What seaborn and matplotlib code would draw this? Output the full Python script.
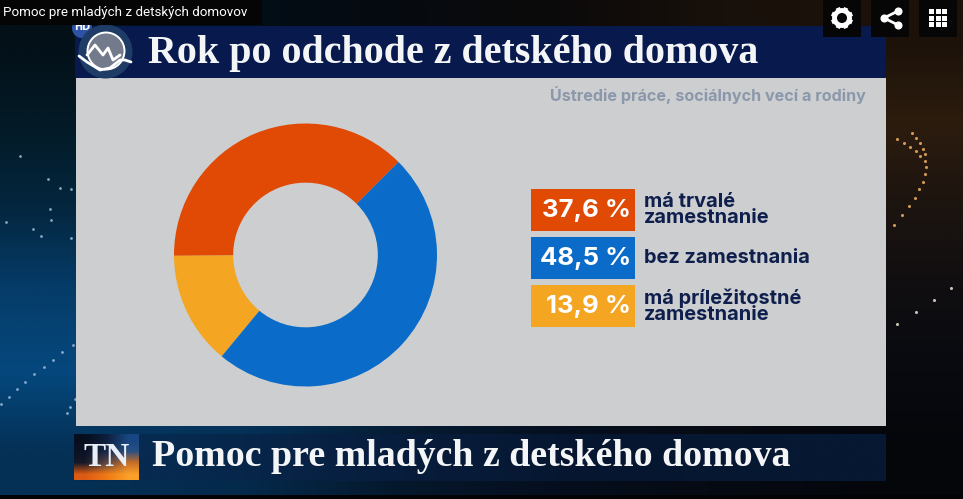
#!/usr/bin/env python
import numpy as np
import seaborn as sns
import matplotlib
matplotlib.use('agg')
import matplotlib.pyplot as plt
from matplotlib.patches import Rectangle, Circle

# values
labels = ["má trvalé\nzamestnanie", "bez zamestnania", "má príležitostné\nzamestnanie"]
shares = [37.6, 48.5, 13.9]
share_texts = ["37,6 %", "48,5 %", "13,9 %"]
colors = ["#e04a05", "#0a6bc9", "#f4a522"]
slice_order = [0, 2, 1]

video_title = "Pomoc pre mladých z detských domovov"
headline = "Rok po odchode z detského domova"
source = "Ústredie práce, sociálnych vecí a rodiny"
ticker = "Pomoc pre mladých z detského domova"

sns.set_theme(style="white")
W, H = 963, 499
fig = plt.figure(figsize=(W / 100, H / 100), dpi=100)
bg = fig.add_axes([0, 0, 1, 1])
bg.axis("off")


def box(x, y, w, h, col, z):
    bg.add_patch(Rectangle((x, y), w, h, facecolor=col, linewidth=0, zorder=z))


# backdrop, coarse colour grid smoothed by imshow
grid = np.array([
    [[3, 16, 24], [3, 14, 22], [6, 10, 16], [12, 10, 10], [24, 16, 10], [28, 18, 10]],
    [[3, 26, 38], [4, 26, 42], [6, 20, 40], [10, 14, 30], [40, 26, 14], [44, 28, 14]],
    [[4, 38, 62], [5, 42, 70], [6, 30, 56], [8, 16, 32], [20, 16, 20], [28, 20, 16]],
    [[5, 60, 105], [6, 60, 106], [6, 40, 70], [6, 16, 34], [14, 14, 20], [16, 14, 16]],
    [[5, 72, 125], [6, 70, 122], [6, 40, 72], [6, 18, 36], [10, 12, 20], [8, 10, 16]],
    [[4, 48, 85], [4, 42, 76], [5, 24, 44], [5, 14, 30], [6, 10, 18], [4, 6, 10]],
]) / 255
bg.imshow(grid, extent=(0, W, 495, 0), aspect="auto", interpolation="bilinear", zorder=0)
box(0, 495, W, 4, "#020304", 1)

# background specks
left_x = [20, 48, 60, 71, 50, 51, 33, 41, 6, 71, 1, 9, 17, 25, 34, 44, 53, 62, 73, 67, 70, 75]
left_y = [156, 179, 188, 189, 209, 220, 229, 236, 222, 238, 404, 397, 389, 382, 374, 367, 360, 352, 345, 413, 407, 399]
bg.scatter(left_x, left_y, s=4, color="#a9c6e4", alpha=0.8, linewidths=0, zorder=1)
arc_x = [897, 904, 912, 916, 920, 923, 925, 925, 926, 925, 923, 919, 915, 909, 902, 894, 910, 916, 920]
arc_y = [139, 143, 133, 138, 143, 149, 154, 161, 167, 174, 182, 189, 198, 206, 215, 225, 147, 151, 156]
bg.scatter(arc_x, arc_y, s=5, color="#f0b060", alpha=0.85, linewidths=0, zorder=1)
far_x = [951, 934, 916, 897]
far_y = [288, 300, 312, 324]
bg.scatter(far_x, far_y, s=5, color="#e8e0d0", alpha=0.85, linewidths=0, zorder=1)

# bands and panel
box(75, 26, 811, 52, "#07194d", 2)
box(76, 78, 810, 348, "#cdcecf", 2)
band = np.array([[[6, 42, 80], [8, 30, 62], [6, 22, 48], [6, 24, 50]]]) / 255
bg.imshow(band, extent=(75, 886, 481, 434), aspect="auto", interpolation="bilinear", zorder=2)

# header texts
bg.text(148, 53, headline, color="#f4f5f6", fontsize=28.8, family="Liberation Serif", weight="bold",
        va="center", zorder=4)
bg.text(866, 95, source, color="#8b98ab", fontsize=11.6, family="Inter", weight="bold",
        va="center", ha="right", zorder=4)

# logo
bg.add_patch(Circle((82, 28), 10, color="#2c53a5", lw=0, zorder=3))
bg.text(82, 27, "HD", color="white", fontsize=7, weight="bold", ha="center", va="center", zorder=4)
box(0, 0, 262, 25, "#050505", 4.5)
bg.text(3, 12.5, video_title, color="white", fontsize=9.6, family="Roboto", va="center", zorder=4.6)
bg.add_patch(Circle((105.5, 51.5), 27, color="#1f3c66", lw=0, zorder=3))
bg.add_patch(Circle((106, 51), 18.5, facecolor="#737a8c", edgecolor="white", lw=1.4, zorder=4))
logo_x = [87, 95, 103, 108, 113, 120]
logo_y = [55, 45, 55, 48, 60, 55]
bg.plot(logo_x, logo_y, color="white", lw=2, zorder=5)
wave_x = [79, 87, 100, 110, 120, 125, 131]
wave_y = [56, 62, 70, 68, 60, 60, 62]
bg.plot(wave_x, wave_y, color="white", lw=2, zorder=5)

# top right buttons
for x0 in [823, 871, 919]:
    box(x0, 0, 38, 37, "#060606", 3)
bg.add_patch(Circle((842, 18), 7.5, facecolor="#060606", edgecolor="white", lw=3.5, zorder=5))
for a in np.arange(8) * np.pi / 4 + np.pi / 8:
    bg.plot([842 + 8 * np.cos(a), 842 + 11 * np.cos(a)],
            [18 + 8 * np.sin(a), 18 + 11 * np.sin(a)], color="white", lw=3.2,
            solid_capstyle="butt", zorder=4)
share_x = [898, 884, 898]
share_y = [11, 18, 25]
bg.plot(share_x, share_y, color="white", lw=2, zorder=4)
bg.scatter(share_x, share_y, s=34, color="white", linewidths=0, zorder=4)
for i in range(3):
    for j in range(3):
        box(929 + 6.6 * i, 9 + 6.6 * j, 5, 5, "white", 4)

# legend blocks
for text, label, col, y0 in zip(share_texts, labels, colors, [189, 237, 285]):
    box(531, y0, 104, 42, col, 3)
    bg.text(631, y0 + 21, text, color="white", fontsize=18.5, family="Inter", weight="bold",
            ha="right", va="center", zorder=4)
    bg.text(644, y0 + 21, label, color="#0f1f4d", fontsize=14.4, family="Inter", weight="bold",
            ha="left", va="center", linespacing=0.86, zorder=4)

# TN logo and ticker
tn = np.array([[[6, 14, 30], [14, 30, 60], [24, 70, 130]],
               [[10, 18, 36], [24, 40, 70], [40, 80, 130]],
               [[20, 24, 40], [90, 70, 70], [200, 110, 40]],
               [[220, 90, 20], [240, 120, 20], [250, 160, 40]]]) / 255
bg.imshow(tn, extent=(74, 139, 480, 434), aspect="auto", interpolation="bilinear", zorder=3)
bg.text(106.5, 457, "TN", color="#e8eef6", fontsize=24, family="Liberation Serif", weight="bold",
        ha="center", va="center", zorder=4)
bg.text(152, 456, ticker, color="#f4f5f6", fontsize=27.3, family="Liberation Serif", weight="bold",
        va="center", zorder=4)
bg.set_xlim(0, W)
bg.set_ylim(H, 0)

# donut, 263 px across centred at (305.5, 255)
d = 263
ax = fig.add_axes([(305.5 - d / 2) / W, 1 - (255 + d / 2) / H, d / W, d / H])
ax.patch.set_alpha(0)
ax.pie([shares[i] for i in slice_order], colors=[colors[i] for i in slice_order],
       startangle=45, counterclock=True, radius=1,
       wedgeprops=dict(width=0.45, linewidth=0))
ax.set_xlim(-1, 1)
ax.set_ylim(-1, 1)

plt.savefig("out.png", dpi=100)
